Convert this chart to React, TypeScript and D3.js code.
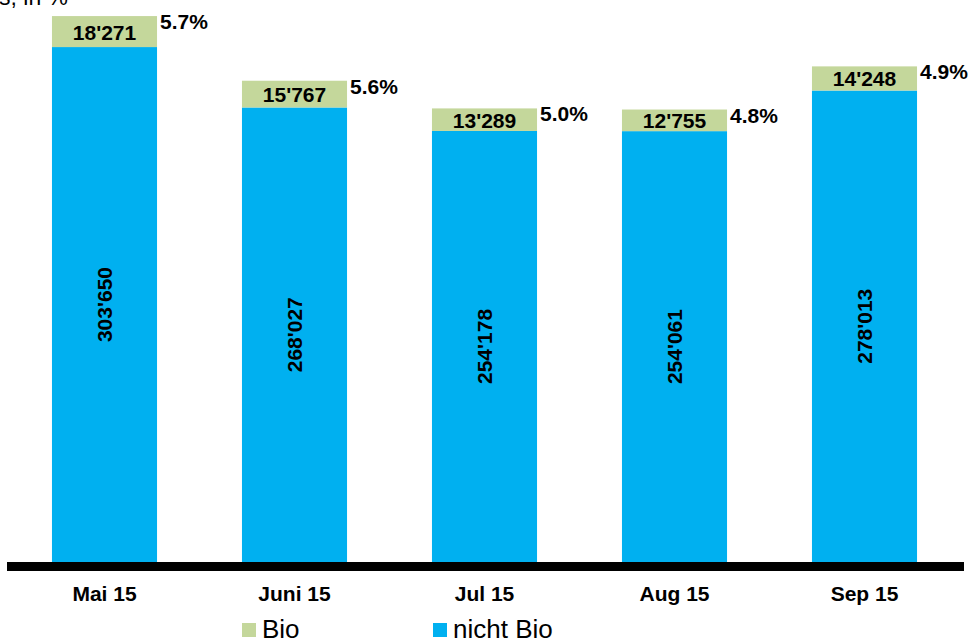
import React from "react";
import * as d3 from "d3";

const categories = ["Mai 15", "Juni 15", "Jul 15", "Aug 15", "Sep 15"];
const nichtBio = [303650, 268027, 254178, 254061, 278013];
const bio = [18271, 15767, 13289, 12755, 14248];
const seriesNames = ["Bio", "nicht Bio"];
const titleText = "s, in %";

const W = 970;
const H = 643;
const FONT = "'Liberation Sans', Arial, Helvetica, sans-serif";
const BLUE = "#00B0F0";
const GREEN = "#C4D79B";

const locale = d3.formatLocale({
  decimal: ".",
  thousands: "'",
  grouping: [3],
  currency: ["", ""],
});
const fmtNum = locale.format(",d");
const fmtPct = d3.format(".1%");

export default function App() {
  const x = d3
    .scaleBand<string>()
    .domain(categories)
    .range([9.5, 959.5])
    .paddingInner(0.447)
    .paddingOuter(0.2235);
  const y = d3.scaleLinear().domain([0, 331400]).range([562, 0]);
  const bw = x.bandwidth();

  return (
    <svg
      width={W}
      height={H}
      style={{ position: "absolute", left: 0, top: 0, background: "#fff" }}
      fontFamily={FONT}
    >
      <text x={-1} y={5} fontSize={23} fill="#000">
        {titleText}
      </text>
      {categories.map((c, i) => {
        const x0 = x(c)!;
        const cx = x0 + bw / 2;
        const yNB = y(nichtBio[i]);
        const yTot = y(nichtBio[i] + bio[i]);
        const pct = bio[i] / (nichtBio[i] + bio[i]);
        return (
          <g key={c}>
            <rect x={x0} y={yNB} width={bw} height={y(0) - yNB} fill={BLUE} />
            <rect x={x0} y={yTot} width={bw} height={yNB - yTot} fill={GREEN} />
            <text
              x={cx}
              y={(yTot + yNB) / 2 + 8}
              textAnchor="middle"
              fontSize={21}
              fontWeight="bold"
            >
              {fmtNum(bio[i])}
            </text>
            <text
              transform={`translate(${cx + 7.5},${(yNB + y(0)) / 2}) rotate(-90)`}
              textAnchor="middle"
              fontSize={21}
              fontWeight="bold"
            >
              {fmtNum(nichtBio[i])}
            </text>
            <text x={x0 + bw + 3} y={yTot + 13} fontSize={21} fontWeight="bold">
              {fmtPct(pct)}
            </text>
            <text x={cx} y={601} textAnchor="middle" fontSize={21} fontWeight="bold">
              {c}
            </text>
          </g>
        );
      })}
      <line x1={7} x2={964} y1={566.5} y2={566.5} stroke="#000" strokeWidth={9} />
      <g>
        <rect x={242} y={623} width={14} height={14} fill={GREEN} />
        <text x={262} y={638} fontSize={26}>
          {seriesNames[0]}
        </text>
        <rect x={433} y={623} width={14} height={14} fill={BLUE} />
        <text x={453} y={638} fontSize={26}>
          {seriesNames[1]}
        </text>
      </g>
    </svg>
  );
}
